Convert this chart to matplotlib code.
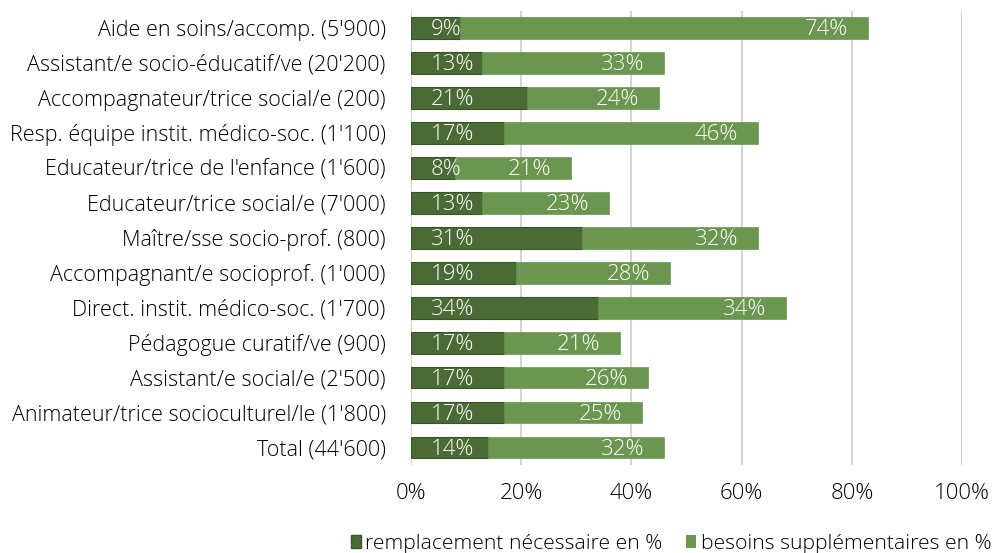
import matplotlib.pyplot as plt
from matplotlib.patches import Patch

plt.rcParams['font.family'] = ['Open Sans', 'DejaVu Sans']

categories = ["Aide en soins/accomp. (5'900)",
              "Assistant/e socio-éducatif/ve (20'200)",
              "Accompagnateur/trice social/e (200)",
              "Resp. équipe instit. médico-soc. (1'100)",
              "Educateur/trice de l'enfance (1'600)",
              "Educateur/trice social/e (7'000)",
              "Maître/sse socio-prof. (800)",
              "Accompagnant/e socioprof. (1'000)",
              "Direct. instit. médico-soc. (1'700)",
              "Pédagogue curatif/ve (900)",
              "Assistant/e social/e (2'500)",
              "Animateur/trice socioculturel/le (1'800)",
              "Total (44'600)"]
remplacement = [9, 13, 21, 17, 8, 13, 31, 19, 34, 17, 17, 17, 14]
besoins = [74, 33, 24, 46, 21, 23, 32, 28, 34, 21, 26, 25, 32]

dark = '#4a6b35'
light = '#6b9650'

fig = plt.figure(figsize=(9.97, 5.53), dpi=100)
ax = fig.add_axes([0.412, 0.159, 0.553, 0.822])

y = list(range(len(categories)))
ax.barh(y, remplacement, height=0.62, color=dark, edgecolor='#3a5528', linewidth=0.8)
ax.barh(y, besoins, left=remplacement, height=0.62, color=light, edgecolor=light, linewidth=0.5)

for i in y:
    ax.text(3.6, i + 0.05, f'{remplacement[i]}%', color='white', fontsize=16,
            fontweight='light', ha='left', va='center')
    ax.text(remplacement[i] + besoins[i] - 3.6, i + 0.05, f'{besoins[i]}%', color='white',
            fontsize=16, fontweight='light', ha='right', va='center')

ax.set_xlim(0, 100)
ax.set_ylim(len(categories) - 0.5, -0.5)
ax.set_yticks(y)
ax.set_yticklabels(categories, fontsize=15.5, fontweight='light')
ax.set_xticks([0, 20, 40, 60, 80, 100])
ax.set_xticklabels(['0%', '20%', '40%', '60%', '80%', '100%'], fontsize=16, fontweight='light')
ax.tick_params(length=0, pad=18)
ax.tick_params(axis='x', pad=13)
ax.xaxis.grid(True, color='#d0d0d0', linewidth=1.3)
ax.set_axisbelow(True)
for s in ax.spines.values():
    s.set_visible(False)

handles = [Patch(facecolor=dark, edgecolor='#3a5528', label='remplacement nécessaire en %'),
           Patch(facecolor=light, label='besoins supplémentaires en %')]
fig.legend(handles=handles, loc='center', bbox_to_anchor=(0.673, 0.016), ncol=2, frameon=False,
           prop={'size': 15.2, 'weight': 'light'}, handlelength=0.5, handleheight=0.6,
           handletextpad=0.2, columnspacing=1.1, borderpad=0.2)

fig.savefig('out.png', dpi=100)
